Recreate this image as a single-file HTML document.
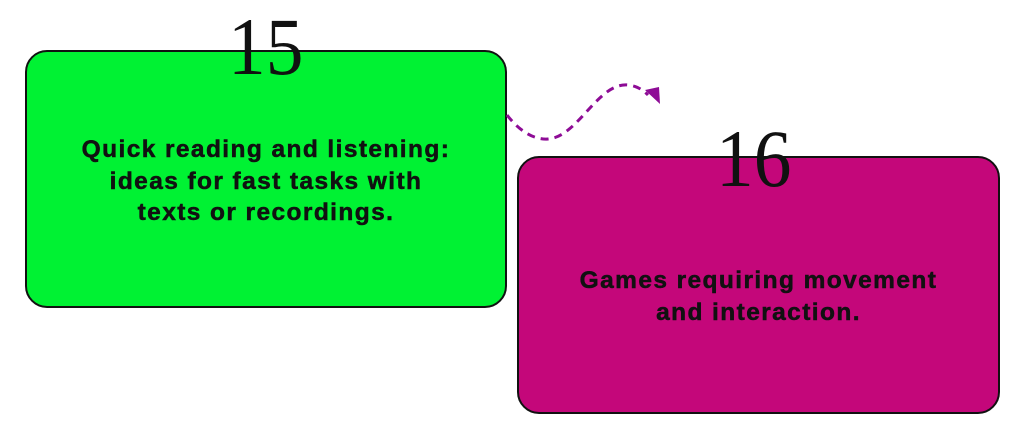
<!DOCTYPE html>
<html><head><style>
body{margin:0;width:1024px;height:429px;background:#fff;position:relative;overflow:hidden;font-family:"Liberation Sans",sans-serif}
.box{position:absolute;border:2px solid #111;border-radius:22px;box-sizing:border-box}
.t{position:absolute;left:0;right:0;text-align:center;font-weight:bold;font-size:24.5px;line-height:31.5px;color:#111;letter-spacing:1.4px;-webkit-text-stroke:0.5px #111}
.n{position:absolute;font-family:"Liberation Serif",serif;font-size:82px;line-height:1;color:#111;transform:scaleX(0.92);transform-origin:0 0}
</style></head><body>
<div class="box" style="left:25px;top:50px;width:482px;height:258px;background:#00f233">
<div class="t" style="top:82px">Quick reading and listening:<br>ideas for fast tasks with<br>texts or recordings.</div></div>
<div class="box" style="left:517px;top:156px;width:483px;height:258px;background:#c4077a">
<div class="t" style="top:107px">Games requiring movement<br>and interaction.</div></div>
<div class="n" style="left:228px;top:6px">15</div>
<div class="n" style="left:716px;top:118px">16</div>
<svg style="position:absolute;left:0;top:0" width="1024" height="429">
<path d="M507,115 C520,132 535,140 548,139 C578,137 598,82 628,85 C638,86 644,91 648,95" fill="none" stroke="#8e0c96" stroke-width="3" stroke-dasharray="8,6"/>
<polygon points="645,90 659,87 660,104" fill="#8e0c96"/>
</svg>
</body></html>
